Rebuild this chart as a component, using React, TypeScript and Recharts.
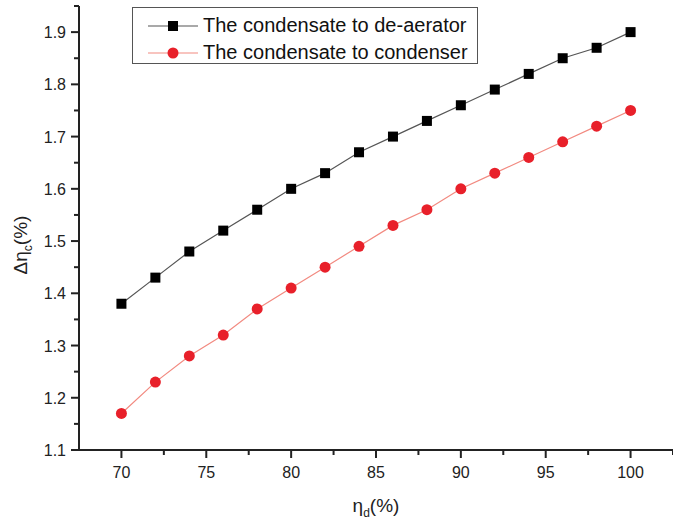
import { LineChart, Line, XAxis, YAxis, Label } from "recharts";

const etaD = [70, 72, 74, 76, 78, 80, 82, 84, 86, 88, 90, 92, 94, 96, 98, 100];
const toDeaerator = [1.38, 1.43, 1.48, 1.52, 1.56, 1.6, 1.63, 1.67, 1.7, 1.73, 1.76, 1.79, 1.82, 1.85, 1.87, 1.9];
const toCondenser = [1.17, 1.23, 1.28, 1.32, 1.37, 1.41, 1.45, 1.49, 1.53, 1.56, 1.6, 1.63, 1.66, 1.69, 1.72, 1.75];

const xTicks = [70, 72.5, 75, 77.5, 80, 82.5, 85, 87.5, 90, 92.5, 95, 97.5, 100, 102.5];
const yTicks = [1.1, 1.15, 1.2, 1.25, 1.3, 1.35, 1.4, 1.45, 1.5, 1.55, 1.6, 1.65, 1.7, 1.75, 1.8, 1.85, 1.9, 1.95];

const seriesLabels = ["The condensate to de-aerator", "The condensate to condenser"];

const data = etaD.map((x, i) => ({ x, a: toDeaerator[i], b: toCondenser[i] }));

const FONT = "'Liberation Sans', Arial, sans-serif";
const AXIS = "#222";

const isMajor = (v: number, step: number) => Math.abs(v / step - Math.round(v / step)) < 1e-6;

const XTick = ({ x, y, payload }: any) => {
  const major = isMajor(payload.value, 5);
  return (
    <g>
      <line x1={x} x2={x} y1={y} y2={y + (major ? 8 : 5)} stroke={AXIS} strokeWidth={2} />
      {major && (
        <text x={x} y={y + 28} textAnchor="middle" fontSize={16} fill="#222" fontFamily={FONT}>
          {payload.value}
        </text>
      )}
    </g>
  );
};

const YTick = ({ x, y, payload }: any) => {
  const major = isMajor(payload.value, 0.1);
  return (
    <g>
      <line x1={x} x2={x - (major ? 8 : 5)} y1={y} y2={y} stroke={AXIS} strokeWidth={2} />
      {major && (
        <text x={x - 13} y={y + 6} textAnchor="end" fontSize={16} fill="#222" fontFamily={FONT}>
          {payload.value.toFixed(1)}
        </text>
      )}
    </g>
  );
};

const Square = (props: any) => {
  const { cx, cy } = props;
  if (cx == null || cy == null) return null;
  return <rect x={cx - 5} y={cy - 5} width={10} height={10} fill="#000" />;
};

const Dot = (props: any) => {
  const { cx, cy } = props;
  if (cx == null || cy == null) return null;
  return <circle cx={cx} cy={cy} r={5.5} fill="#e8202a" />;
};

const LegendBox = () => (
  <div
    style={{
      position: "absolute",
      left: 132,
      top: 7,
      border: "1px solid #555",
      width: 346,
      height: 57,
      boxSizing: "border-box",
      padding: "4px 0 0 15px",
      fontFamily: FONT,
      fontSize: 20,
      color: "#111",
      background: "#fff",
    }}
  >
    {seriesLabels.map((label, i) => (
      <div key={label} style={{ display: "flex", alignItems: "center", height: 27 }}>
        <svg width={50} height={16} style={{ marginRight: 5 }}>
          <line x1={0} x2={50} y1={8} y2={8} stroke={i === 0 ? "#555" : "#f28a80"} strokeWidth={1.2} />
          {i === 0 ? (
            <rect x={20} y={3} width={10} height={10} fill="#000" />
          ) : (
            <circle cx={25} cy={8} r={5.5} fill="#e8202a" />
          )}
        </svg>
        <span>{label}</span>
      </div>
    ))}
  </div>
);

export default function App() {
  return (
    <div style={{ position: "absolute", left: 0, top: 0, width: 673, height: 522, background: "#fff" }}>
      <LineChart width={673} height={522} data={data} margin={{ top: 6, right: 0, bottom: 0, left: 19 }}>
        <XAxis
          dataKey="x"
          type="number"
          domain={[67.5, 102.5]}
          ticks={xTicks}
          interval={0}
          tick={<XTick />}
          tickLine={false}
          tickSize={0}
          tickMargin={0}
          height={72}
          stroke={AXIS}
          strokeWidth={2}
          allowDataOverflow
        >
          <Label
            content={() => (
              <text x={376} y={512} textAnchor="middle" fontSize={19} fill="#222" fontFamily={FONT}>
                η<tspan fontSize={12} dy={5}>d</tspan>
                <tspan dy={-5}>(%)</tspan>
              </text>
            )}
          />
        </XAxis>
        <YAxis
          type="number"
          domain={[1.1, 1.95]}
          ticks={yTicks}
          interval={0}
          tick={<YTick />}
          tickLine={false}
          tickSize={0}
          tickMargin={0}
          width={60}
          stroke={AXIS}
          strokeWidth={2}
          allowDataOverflow
        >
          <Label
            content={() => (
              <text
                x={27}
                y={245}
                textAnchor="middle"
                fontSize={19}
                fill="#222"
                fontFamily={FONT}
                transform="rotate(-90 27 245)"
              >
                Δη<tspan fontSize={12} dy={5}>c</tspan>
                <tspan dy={-5}>(%)</tspan>
              </text>
            )}
          />
        </YAxis>
        <Line
          dataKey="a"
          name={seriesLabels[0]}
          stroke="#555"
          strokeWidth={1.2}
          dot={<Square />}
          activeDot={false}
          isAnimationActive={false}
        />
        <Line
          dataKey="b"
          name={seriesLabels[1]}
          stroke="#f28a80"
          strokeWidth={1.2}
          dot={<Dot />}
          activeDot={false}
          isAnimationActive={false}
        />
      </LineChart>
      <LegendBox />
    </div>
  );
}
